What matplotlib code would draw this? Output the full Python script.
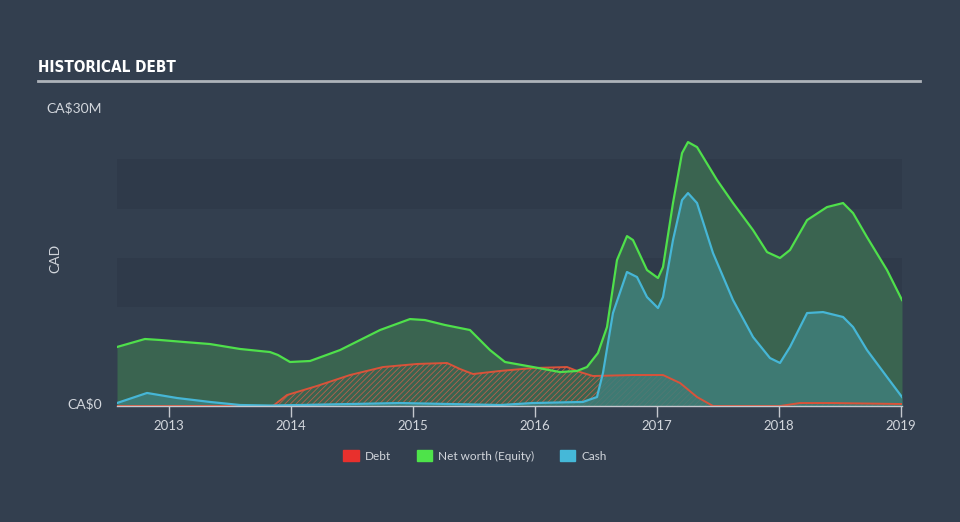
import matplotlib
matplotlib.use("Agg")
import matplotlib.pyplot as plt
from matplotlib.patches import Patch

# ── DATA (years as decimal, values in CA$ millions) ─────────────────────────
equity_x = [2012.574, 2012.803, 2012.926, 2013.131, 2013.336, 2013.582, 2013.828,
            2013.893, 2013.992, 2014.156, 2014.402, 2014.730, 2014.975, 2015.098,
            2015.262, 2015.467, 2015.631, 2015.754, 2015.984, 2016.205, 2016.344,
            2016.426, 2016.516, 2016.590, 2016.672, 2016.754, 2016.803, 2016.918,
            2017.008, 2017.049, 2017.131, 2017.205, 2017.254, 2017.328, 2017.492,
            2017.623, 2017.787, 2017.902, 2018.008, 2018.090, 2018.230, 2018.393,
            2018.525, 2018.607, 2018.721, 2018.885, 2019.008]
equity_y = [5.98, 6.79, 6.69, 6.48, 6.28, 5.78, 5.47,
            5.17, 4.46, 4.56, 5.67, 7.70, 8.81, 8.71,
            8.21, 7.70, 5.67, 4.46, 3.95, 3.44, 3.55,
            3.95, 5.37, 8.00, 14.79, 17.22, 16.82, 13.78,
            12.97, 14.08, 20.57, 25.63, 26.75, 26.24, 22.90,
            20.57, 17.83, 15.60, 15.00, 15.81, 18.84, 20.16,
            20.57, 19.55, 17.12, 13.78, 10.74]

cash_x = [2012.574, 2012.820, 2013.066, 2013.336, 2013.582, 2013.828, 2014.070,
          2014.893, 2015.300, 2015.713, 2015.984, 2016.393, 2016.508, 2016.557,
          2016.639, 2016.754, 2016.836, 2016.918, 2017.008, 2017.049, 2017.131,
          2017.205, 2017.254, 2017.328, 2017.459, 2017.623, 2017.787, 2017.926,
          2018.008, 2018.090, 2018.230, 2018.361, 2018.525, 2018.607, 2018.721,
          2018.885, 2019.008]
cash_y = [0.30, 1.32, 0.81, 0.41, 0.10, 0.05, 0.10,
          0.30, 0.20, 0.10, 0.30, 0.41, 0.91, 3.34,
          9.42, 13.58, 13.07, 11.04, 9.93, 11.04, 16.82,
          20.87, 21.58, 20.57, 15.50, 10.74, 6.99, 4.86,
          4.36, 5.98, 9.42, 9.52, 9.02, 8.00, 5.67,
          2.94, 0.91]

debt_x = [2012.574, 2013.852, 2013.967, 2014.213, 2014.484, 2014.754, 2015.033,
          2015.279, 2015.385, 2015.492, 2015.713, 2015.984, 2016.262, 2016.369,
          2016.475, 2016.803, 2017.049, 2017.189, 2017.328, 2017.459, 2018.008,
          2018.172, 2018.443, 2019.008]
debt_y = [0.0, 0.0, 1.11, 2.03, 3.14, 3.95, 4.26,
          4.36, 3.75, 3.24, 3.55, 3.85, 3.95, 3.44,
          3.04, 3.14, 3.14, 2.33, 0.91, 0.0, 0.0,
          0.30, 0.30, 0.20]

year_ticks = [2013, 2014, 2015, 2016, 2017, 2018, 2019]

# ── STYLE ───────────────────────────────────────────────────────────────────
BG = "#333f4f"
BAND = "#2f3a4a"
TXT = "#d2d6dc"
GREEN_LINE = "#4fe04b"
GREEN_FILL = "#3a6450"
CASH_LINE = "#46b6d6"
CASH_FILL = "#3f7e7a"
DEBT_LINE = "#d9533a"

plt.rcParams["hatch.linewidth"] = 0.6
plt.rcParams["font.family"] = ["Lato", "DejaVu Sans"]

fig = plt.figure(figsize=(9.6, 5.22), dpi=100)
fig.patch.set_facecolor(BG)
ax = fig.add_axes([117 / 960, 1 - 406 / 522, 785 / 960, 296 / 522])
ax.set_facecolor(BG)

# horizontal bands
for lo, hi in [(10, 15), (20, 25)]:
    ax.axhspan(lo, hi, color=BAND, lw=0, zorder=0)

# areas
ax.fill_between(equity_x, equity_y, 0, color=GREEN_FILL, lw=0, zorder=1)
ax.fill_between(debt_x, debt_y, 0, facecolor="none", edgecolor="#b8604a",
                hatch="//////", lw=0, zorder=2)
ax.fill_between(cash_x, cash_y, 0, color=CASH_FILL, alpha=0.85, lw=0, zorder=3)

# lines
ax.plot(equity_x, equity_y, color=GREEN_LINE, lw=1.6, zorder=5)
ax.plot(debt_x, debt_y, color=DEBT_LINE, lw=1.4, zorder=4)
ax.plot(cash_x, cash_y, color=CASH_LINE, lw=1.6, zorder=6)

ax.set_xlim(2012.574, 2019.008)
ax.set_ylim(0, 30)
for s in ["top", "right", "left"]:
    ax.spines[s].set_visible(False)
ax.spines["bottom"].set_color("#c4c8ce")
ax.spines["bottom"].set_linewidth(1.0)
ax.spines["bottom"].set_zorder(7)

ax.set_yticks([])
ax.set_xticks(year_ticks)
ax.set_xticklabels([str(y) for y in year_ticks])
ax.tick_params(axis="x", colors="#c4c8ce", labelcolor=TXT, length=8,
               width=1, labelsize=9.5, pad=2)

# title and rule
fig.text(38 / 960, 1 - 68 / 522, "HISTORICAL DEBT", color="white", fontsize=11,
         fontweight="bold", fontstretch="condensed", va="center", ha="left",
         family=["DejaVu Sans"])
fig.add_artist(plt.Line2D([38 / 960, 920 / 960], [1 - 81 / 522, 1 - 81 / 522],
                          color="#aeb3ba", lw=2))

# y labels
fig.text(102 / 960, 1 - 108 / 522, "CA\\$30M", color=TXT, fontsize=10,
         ha="right", va="center")
fig.text(102 / 960, 1 - 404 / 522, "CA\\$0", color=TXT, fontsize=10,
         ha="right", va="center")
fig.text(55 / 960, 1 - 258 / 522, "CAD", color=TXT, fontsize=10,
         rotation=90, ha="center", va="center")

# legend
handles = [Patch(color="#e8302d", label="Debt"),
           Patch(color="#4ee34a", label="Net worth (Equity)"),
           Patch(color="#45b8d8", label="Cash")]
fig.legend(handles=handles, loc="center", bbox_to_anchor=(475 / 960, 1 - 456 / 522),
           ncol=3, frameon=False, fontsize=8.5, labelcolor=TXT, handlelength=1.3,
           handleheight=1.1, handletextpad=0.5, columnspacing=2.2)

fig.savefig("out.png", dpi=100, facecolor=BG)
